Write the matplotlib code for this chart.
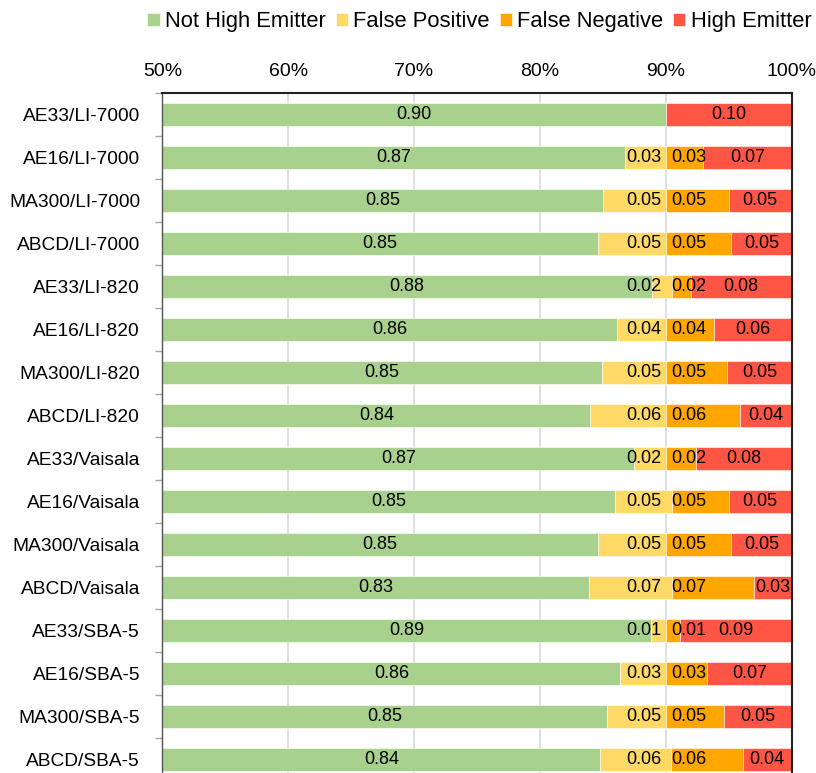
import matplotlib
matplotlib.use("Agg")  # No GUI
import matplotlib.pyplot as plt
import numpy as np

plt.rcParams['font.family'] = ['Liberation Sans', 'DejaVu Sans']

# Pairs, top to bottom
pairs = ["AE33/LI-7000", "AE16/LI-7000", "MA300/LI-7000", "ABCD/LI-7000",
         "AE33/LI-820", "AE16/LI-820", "MA300/LI-820", "ABCD/LI-820",
         "AE33/Vaisala", "AE16/Vaisala", "MA300/Vaisala", "ABCD/Vaisala",
         "AE33/SBA-5", "AE16/SBA-5", "MA300/SBA-5", "ABCD/SBA-5"]

# Segment widths
not_high = [0.900, 0.868, 0.850, 0.846, 0.889, 0.861, 0.849, 0.840,
            0.875, 0.860, 0.846, 0.839, 0.888, 0.864, 0.853, 0.848]
false_pos = [0.000, 0.032, 0.050, 0.054, 0.016, 0.039, 0.051, 0.060,
             0.025, 0.045, 0.054, 0.066, 0.012, 0.036, 0.047, 0.056]
false_neg = [0.000, 0.030, 0.050, 0.052, 0.015, 0.038, 0.049, 0.059,
             0.024, 0.045, 0.052, 0.065, 0.011, 0.033, 0.046, 0.057]
high = [0.100, 0.070, 0.050, 0.048, 0.080, 0.062, 0.051, 0.041,
        0.076, 0.050, 0.048, 0.031, 0.089, 0.067, 0.054, 0.040]

# Data labels as printed on the chart
not_high_lbl = ["0.90", "0.87", "0.85", "0.85", "0.88", "0.86", "0.85", "0.84",
                "0.87", "0.85", "0.85", "0.83", "0.89", "0.86", "0.85", "0.84"]
false_pos_lbl = ["", "0.03", "0.05", "0.05", "0.02", "0.04", "0.05", "0.06",
                 "0.02", "0.05", "0.05", "0.07", "0.01", "0.03", "0.05", "0.06"]
false_neg_lbl = ["", "0.03", "0.05", "0.05", "0.02", "0.04", "0.05", "0.06",
                 "0.02", "0.05", "0.05", "0.07", "0.01", "0.03", "0.05", "0.06"]
high_lbl = ["0.10", "0.07", "0.05", "0.05", "0.08", "0.06", "0.05", "0.04",
            "0.08", "0.05", "0.05", "0.03", "0.09", "0.07", "0.05", "0.04"]

series = [("Not High Emitter", not_high, "#a9d18e"),
          ("False Positive", false_pos, "#ffd966"),
          ("False Negative", false_neg, "#ffa600"),
          ("High Emitter", high, "#ff5545")]

fig = plt.figure(figsize=(8.16, 7.73), dpi=100)
ax = fig.add_axes([0.1989, -0.0103, 0.7712, 0.89])

y = np.arange(len(pairs))
left = np.zeros(len(pairs))
for name, vals, color in series:
    vals = np.array(vals)
    ax.barh(y, vals, left=left, height=0.55, color=color, label=name,
            edgecolor="white", linewidth=0.4, zorder=2)
    left = left + vals

x0 = 0.5
lbl_kw = dict(va="center", fontsize=13, color="black", zorder=3)
fp_start = np.array(not_high)
fn_start = fp_start + np.array(false_pos)
he_start = fn_start + np.array(false_neg)
for i in range(len(pairs)):
    ax.text((x0 + not_high[i]) / 2, y[i], not_high_lbl[i], ha="center", **lbl_kw)
    if false_pos_lbl[i]:
        ax.text(0.8965, y[i], false_pos_lbl[i], ha="right", **lbl_kw)
    if false_neg_lbl[i]:
        ax.text(0.9045, y[i], false_neg_lbl[i], ha="left", **lbl_kw)
    ax.text((he_start[i] + 1.0) / 2, y[i], high_lbl[i], ha="center", **lbl_kw)

ax.set_xlim(0.5, 1.0)
ax.set_ylim(len(pairs) - 0.5, -0.5)
ax.set_xticks(np.arange(0.5, 1.001, 0.1))
ax.set_xticklabels(["{:.0f}%".format(v * 100) for v in np.arange(0.5, 1.001, 0.1)])
ax.xaxis.tick_top()
ax.tick_params(axis="x", length=0, pad=9, labelsize=14)
ax.set_yticks(y)
ax.set_yticklabels(pairs)
ax.tick_params(axis="y", length=0, pad=16, labelsize=13.8)
ax.set_yticks(np.arange(-0.5, len(pairs), 1.0), minor=True)
ax.tick_params(axis="y", which="minor", length=5, color="#a6a6a6", width=1)
ax.grid(axis="x", color="#d9d9d9", linewidth=1.2, zorder=0)
ax.set_axisbelow(True)

ax.spines["top"].set_color("#222222")
ax.spines["top"].set_linewidth(1.5)
ax.spines["right"].set_color("#222222")
ax.spines["right"].set_linewidth(1.5)
ax.spines["left"].set_color("#555555")
ax.spines["left"].set_linewidth(1.0)
ax.spines["bottom"].set_visible(False)

fig.legend(loc="center right", bbox_to_anchor=(1.005, 0.972), ncol=4,
           frameon=False, fontsize=15.8, handlelength=0.55, handleheight=0.55,
           handletextpad=0.25, columnspacing=0.45, borderaxespad=0)

fig.savefig("out.png", dpi=100)
plt.close(fig)
